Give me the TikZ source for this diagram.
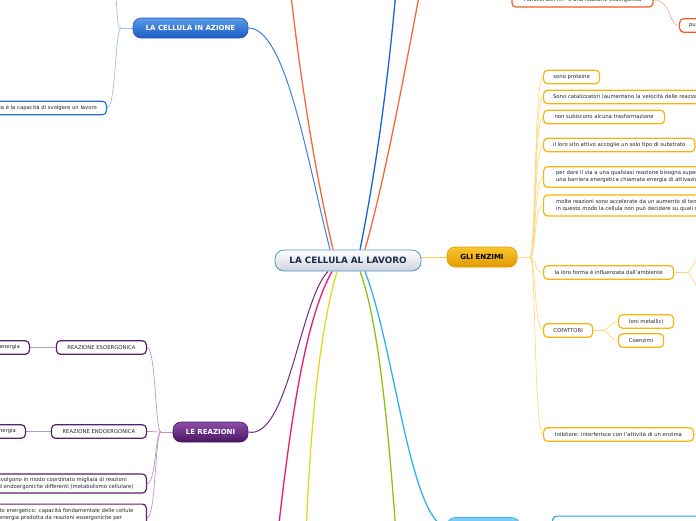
\documentclass[tikz,border=0pt]{standalone}
\usepackage{fontspec}
\setmainfont{DejaVu Sans}
\pgfdeclarelayer{background}
\pgfsetlayers{background,main}

\definecolor{navy}{HTML}{1B2A4A}
\definecolor{textgray}{HTML}{262626}
\definecolor{rootline}{HTML}{4F94CF}
\definecolor{rootgray}{HTML}{CDD4DB}
% topic fills
\definecolor{azionetop}{HTML}{5A9BEA}
\definecolor{azionedark}{HTML}{1E5BC0}
\definecolor{enzimitop}{HTML}{FAC52E}
\definecolor{enzimidark}{HTML}{E29A00}
\definecolor{reazionitop}{HTML}{8C4EA8}
\definecolor{reazionidark}{HTML}{4B1763}
\definecolor{quartotop}{HTML}{7FD0F8}
\definecolor{quartodark}{HTML}{3AB0EC}
% leaf borders
\definecolor{azioneleaf}{HTML}{2A6FDC}
\definecolor{enzimileaf}{HTML}{F9B30A}
\definecolor{reazionileaf}{HTML}{5B1E6E}
\definecolor{orangeleaf}{HTML}{F05A28}
\definecolor{quartoleaf}{HTML}{2AA8E8}
% lines
\definecolor{azioneline}{HTML}{3B7FE0}
\definecolor{blueline}{HTML}{1565D8}
\definecolor{orangeline}{HTML}{F26A3C}
\definecolor{reazioniline}{HTML}{6B2C82}
\definecolor{pinkline}{HTML}{F0186E}
\definecolor{yellowline}{HTML}{E6D81A}
\definecolor{greenline}{HTML}{8CC414}
\definecolor{quartoline}{HTML}{2BB2F0}
\definecolor{enzimiline}{HTML}{F8CF60}
\definecolor{azionetwig}{HTML}{9DC0F0}
\definecolor{enzimitwig}{HTML}{FFD980}
\definecolor{reazionitwig}{HTML}{B996C8}
\definecolor{orangetwig}{HTML}{F8B09A}

\tikzset{
  topic/.style={rounded corners=8pt, minimum height=20pt, inner sep=0pt, line width=0.6pt, font=\fontsize{7}{8}\selectfont\bfseries},
  leaf/.style={draw, fill=white, rounded corners=4pt, line width=1.2pt, minimum height=13.5pt, inner xsep=9.5pt, inner ysep=2pt, font=\fontsize{5.3}{7}\selectfont, text=textgray, align=left},
  branch/.style={line width=1.3pt},
  twig/.style={line width=0.7pt},
}

\begin{document}
\begin{tikzpicture}[x=1pt, y=-1pt]
	\useasboundingbox (0,0) rectangle (696,520);
	\clip (0,0) rectangle (696,520);

	% Central and main topics:
	\node[draw=rootline, line width=0.8pt, rounded corners=9pt, top color=white, bottom color=rootgray, minimum width=146pt, minimum height=21pt, inner sep=0pt, font=\fontsize{8.8}{10}\selectfont\bfseries, text=navy] (cellula) at (348,260.5) {LA CELLULA AL LAVORO};
	\node[topic, draw=azionedark, top color=azionetop, bottom color=azionedark, text=white, minimum width=115pt] (azione) at (190.5,28) {LA CELLULA IN AZIONE};
	\node[topic, draw=enzimidark, top color=enzimitop, bottom color=enzimidark, text=black, minimum width=70pt] (enzimi) at (482,257) {GLI ENZIMI};
	\node[topic, draw=reazionidark, top color=reazionitop, bottom color=reazionidark, text=white, minimum width=75pt] (reazioni) at (210.5,432) {LE REAZIONI};
	\node[topic, draw=quartodark, top color=quartotop, bottom color=quartodark, minimum width=73pt] (quarto) at (483.5,527.5) {};

	% Leaves:
	\node[leaf, draw=azioneleaf, anchor=east] (energia) at (107,108) {L'energia è la capacità di svolgere un lavoro};
	\node[leaf, draw=orangeleaf, minimum width=141pt, minimum height=14pt] (idrolisi) at (582.5,0) {l'idrolisi dell'ATP è una reazione esoergonica};
	\node[leaf, draw=orangeleaf, anchor=west] (pu) at (679,25.5) {pu};

	\node[leaf, draw=enzimileaf, anchor=west, minimum width=56pt] (proteine) at (543,77) {sono proteine};
	\node[leaf, draw=enzimileaf, anchor=west] (catalizzatori) at (543,97) {Sono catalizzatori (aumentano la velocità delle reazioni)};
	\node[leaf, draw=enzimileaf, anchor=west, minimum width=121pt] (trasformazione) at (543,117) {non subiscono alcuna trasformazione};
	\node[leaf, draw=enzimileaf, anchor=west] (substrato) at (543,145) {il loro sito attivo accoglie un solo tipo di substrato};
	\node[leaf, draw=enzimileaf, anchor=west, inner xsep=12.5pt, minimum height=20.5pt] (attivazione) at (543,177) {per dare il via a una qualsiasi reazione bisogna superare\\una barriera energetica chiamata energia di attivazione};
	\node[leaf, draw=enzimileaf, anchor=west, inner xsep=12.5pt, minimum height=21pt] (temperatura) at (543,205.5) {molte reazioni sono accelerate da un aumento di temperatura,\\in questo modo la cellula non può decidere su quali reazioni};
	\node[leaf, draw=enzimileaf, anchor=west, minimum width=130pt] (forma) at (543,272.5) {la loro forma è influenzata dall'ambiente};
	\node[leaf, draw=enzimileaf, anchor=west, minimum width=49pt] (cofattori) at (543,330.5) {COFATTORI};
	\node[leaf, draw=enzimileaf, anchor=west, minimum width=55pt] (ioni) at (618,321.5) {Ioni metallici};
	\node[leaf, draw=enzimileaf, anchor=west, minimum width=45pt] (coenzimi) at (618,340.5) {Coenzimi};
	\node[leaf, draw=enzimileaf, anchor=west, minimum width=150pt] (inibitore) at (543,434.5) {Inibitore: interferisce con l'attività di un enzima};

	\node[leaf, draw=reazionileaf, anchor=east, minimum width=90pt] (esoergonica) at (147,347.5) {REAZIONE ESOERGONICA};
	\node[leaf, draw=reazionileaf, anchor=east] (libera) at (30,347.5) {rilascia energia};
	\node[leaf, draw=reazionileaf, anchor=east, minimum width=95pt] (endoergonica) at (147,431.5) {REAZIONE ENDOERGONICA};
	\node[leaf, draw=reazionileaf, anchor=east] (assorbe) at (26,431.5) {assorbe energia};
	\node[leaf, draw=reazionileaf, anchor=east, inner xsep=13pt, minimum height=19pt] (metabolismo) at (147,483.5) {Nelle cellule si svolgono in modo coordinato migliaia di reazioni\\esoergoniche ed endoergoniche differenti (metabolismo cellulare)};
	\node[leaf, draw=reazionileaf, anchor=north east, inner xsep=13pt, inner ysep=4pt] (accoppiamento) at (147,503.5) {Accoppiamento energetico: capacità fondamentale delle cellule\\di utilizzare l'energia prodotta da reazioni esoergoniche per\\alimentare le reazioni endoergoniche};

	\node[leaf, draw=quartoleaf, anchor=north west, minimum width=200pt, minimum height=30pt] (quartoleaf) at (552,515.5) {};

	% Off-canvas ends and junctions:
	\coordinate (oltreA) at (285,-60);
	\coordinate (oltreB) at (400,-60);
	\coordinate (oltreC) at (430,-60);
	\coordinate (oltreD) at (275,560);
	\coordinate (oltreE) at (305,560);
	\coordinate (oltreF) at (398,560);
	\coordinate (oltreG) at (113,-40);
	\coordinate (oltreH) at (706,235);
	\coordinate (oltreK) at (706,310);
	\coordinate (oltreI) at (710,434.5);
	\coordinate (oltreJ) at (679,-20);
	\coordinate (jAzione) at (121,28);
	\coordinate (jEnzimi) at (530,257);
	\coordinate (jForma) at (687,272.5);
	\coordinate (jCofattori) at (603,330.5);
	\coordinate (jReazioni) at (161,432);

	\begin{pgfonlayer}{background}
	\fill[white] (0,0) rectangle (696,520);
	% main branches
	\draw[branch, azioneline, line width=1pt] ([xshift=-18pt]cellula.north) .. controls (305,150) and (285,28) .. (azione.east);
	\draw[branch, orangeline] ([xshift=-15pt]cellula.north) .. controls (310,150) and (295,40) .. (oltreA);
	\draw[branch, blueline] ([xshift=12pt]cellula.north) .. controls (380,150) and (393,40) .. (oltreB);
	\draw[branch, orangeline] ([xshift=17pt]cellula.north) .. controls (390,160) and (410,40) .. (oltreC);
	\draw[twig, enzimiline, line width=1pt] (enzimi.west) -- (enzimi.west -| cellula.east);
	\draw[branch, reazioniline, line width=1pt] ([xshift=-20pt]cellula.south) .. controls (300,300) and (288,440) .. (reazioni.east);
	\draw[branch, pinkline] ([xshift=-16pt]cellula.south) .. controls (305,320) and (290,420) .. (oltreD);
	\draw[branch, yellowline] ([xshift=-11pt]cellula.south) .. controls (320,330) and (310,420) .. (oltreE);
	\draw[branch, greenline] ([xshift=12pt]cellula.south) .. controls (378,320) and (388,420) .. (oltreF);
	\draw[branch, quartoline] ([xshift=17pt]cellula.south) .. controls (395,350) and (410,520) .. (quarto.west);

	% la cellula in azione
	\draw[twig, azionetwig] (azione.west) -- (jAzione);
	\draw[twig, azionetwig] (jAzione) .. controls (116,28) and (118,8) .. (oltreG);
	\draw[twig, azionetwig] (jAzione) .. controls (115,28) and (116,108) .. (energia.east);

	% orange leaves
	\draw[twig, orangetwig] (idrolisi.east) .. controls (672,0) and (668,25.5) .. (pu.west);
	\draw[twig, orangetwig] (idrolisi.east) .. controls (665,0) and (665,-10) .. (oltreJ);

	% gli enzimi
	\draw[twig, enzimitwig] (enzimi.east) -- (jEnzimi);
	\draw[twig, enzimitwig] (jEnzimi) .. controls +(6,0) and +(-9,0) .. (proteine.west);
	\draw[twig, enzimitwig] (jEnzimi) .. controls +(6,0) and +(-9,0) .. (catalizzatori.west);
	\draw[twig, enzimitwig] (jEnzimi) .. controls +(6,0) and +(-9,0) .. (trasformazione.west);
	\draw[twig, enzimitwig] (jEnzimi) .. controls +(6,0) and +(-9,0) .. (substrato.west);
	\draw[twig, enzimitwig] (jEnzimi) .. controls +(6,0) and +(-9,0) .. (attivazione.west);
	\draw[twig, enzimitwig] (jEnzimi) .. controls +(6,0) and +(-9,0) .. (temperatura.west);
	\draw[twig, enzimitwig] (jEnzimi) .. controls +(6,0) and +(-9,0) .. (forma.west);
	\draw[twig, enzimitwig] (jEnzimi) .. controls +(6,0) and +(-9,0) .. (cofattori.west);
	\draw[twig, enzimitwig] (jEnzimi) .. controls +(6,0) and +(-9,0) .. (inibitore.west);
	\draw[twig, enzimitwig] (forma.east) -- (jForma);
	\draw[twig, enzimitwig] (jForma) .. controls +(5,0) and +(-3,8) .. (oltreH);
	\draw[twig, enzimitwig] (jForma) .. controls +(5,0) and +(-3,-8) .. (oltreK);
	\draw[twig, enzimitwig] (cofattori.east) -- (jCofattori);
	\draw[twig, enzimitwig] (jCofattori) .. controls +(6,0) and +(-8,0) .. (ioni.west);
	\draw[twig, enzimitwig] (jCofattori) .. controls +(6,0) and +(-8,0) .. (coenzimi.west);
	\draw[twig, enzimitwig] (inibitore.east) -- (oltreI);

	% le reazioni
	\draw[twig, reazionitwig] (reazioni.west) -- (jReazioni);
	\draw[twig, reazionitwig] (jReazioni) .. controls +(-6,0) and +(9,0) .. (esoergonica.east);
	\draw[twig, reazionitwig] (jReazioni) .. controls +(-6,0) and +(9,0) .. (endoergonica.east);
	\draw[twig, reazionitwig] (jReazioni) .. controls +(-6,0) and +(9,0) .. (metabolismo.east);
	\draw[twig, reazionitwig] (jReazioni) .. controls +(-6,0) and +(9,0) .. (accoppiamento.east);
	\draw[twig, reazionitwig] (esoergonica.west) -- (libera.east);
	\draw[twig, reazionitwig] (endoergonica.west) -- (assorbe.east);
	\end{pgfonlayer}
\end{tikzpicture}
\end{document}
